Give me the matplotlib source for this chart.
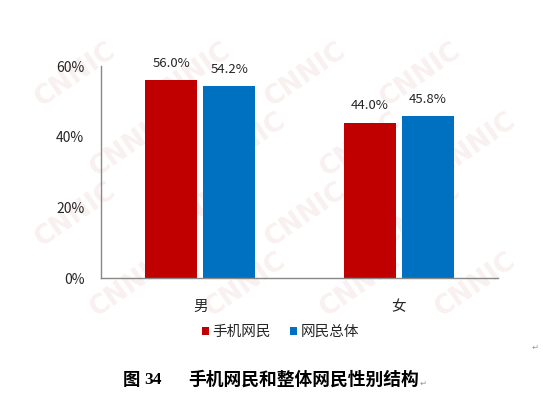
import matplotlib
matplotlib.use("Agg")
import matplotlib.pyplot as plt

plt.rcParams['font.family'] = ['Noto Sans CJK SC', 'DejaVu Sans']

categories = ['男', '女']
series_names = ['手机网民', '网民总体']
mobile_users = [56.0, 44.0]
all_users = [54.2, 45.8]
y_ticks = [0, 20, 40, 60]
y_tick_labels = ['0%', '20%', '40%', '60%']
caption_num = '34'
caption_text = '手机网民和整体网民性别结构'

RED = '#C00000'
BLUE = '#0070C0'

W, H = 543, 397
fig = plt.figure(figsize=(W / 100, H / 100), dpi=100)
fig.patch.set_facecolor('white')

# faint tiled watermark behind the chart area
wm_ax = fig.add_axes([0, 0, 1, 1], zorder=0)
wm_ax.set_xlim(0, W)
wm_ax.set_ylim(H, 0)
wm_ax.axis('off')
for row, yy in enumerate(range(75, 350, 70)):
    for xx in range(75 + (row % 2) * 55, 480, 115):
        wm_ax.text(xx, yy, 'CNNIC', fontsize=19, rotation=35, color='#f9f0f0',
                   ha='center', va='center', family='DejaVu Sans', fontweight='bold')

ax = fig.add_axes([101 / W, 1 - 278 / H, 397 / W, 212 / H], zorder=1)
ax.patch.set_alpha(0)

x = list(range(len(categories)))
bw = 0.26
off = 0.146
b1 = ax.bar([i - off for i in x], mobile_users, bw, color=RED, label=series_names[0])
b2 = ax.bar([i + off for i in x], all_users, bw, color=BLUE, label=series_names[1])

for bars, vals in ((b1, mobile_users), (b2, all_users)):
    for rect, v in zip(bars, vals):
        ax.annotate(f'{v:.1f}%', (rect.get_x() + rect.get_width() / 2, v),
                    xytext=(0, 9.5), textcoords='offset points', ha='center',
                    va='baseline', fontsize=9.5, color='#262626')

ax.set_xlim(-0.5, len(categories) - 0.5)
ax.set_ylim(0, 60)
ax.set_yticks(y_ticks)
ax.set_yticklabels(y_tick_labels, fontsize=10, color='#262626')
ax.set_xticks(x)
ax.set_xticklabels(categories, fontsize=10.5, color='#262626')
ax.tick_params(axis='both', length=0)
ax.tick_params(axis='y', pad=12)
ax.tick_params(axis='x', pad=16)
for s in ('top', 'right'):
    ax.spines[s].set_visible(False)
for s in ('left', 'bottom'):
    ax.spines[s].set_color('#888888')
    ax.spines[s].set_linewidth(1.0)

fig.legend(handles=[b1, b2], labels=series_names, loc='center',
           bbox_to_anchor=(280.5 / W, 1 - 332 / H), ncol=2, frameon=False,
           fontsize=10.5, handlelength=0.5, handleheight=0.5, handletextpad=0.25,
           columnspacing=1.3, labelcolor='#262626')

# caption line
cy = 1 - 380 / H
fig.text(123 / W, cy, '图', fontsize=12.5, fontweight='bold', va='center', ha='left')
fig.text(144 / W, cy, caption_num, fontsize=12.5, fontweight='bold', va='center',
         ha='left', family='Liberation Serif')
caption = fig.text(188 / W, cy, caption_text, fontsize=12.8, fontweight='bold',
                   va='center', ha='left')
fig.canvas.draw()
cap_right = caption.get_window_extent().x1
fig.text((cap_right + 1) / W, 1 - 383 / H, '↵', fontsize=6, color='#999999',
         va='center', ha='left', family='DejaVu Sans')
fig.text(532 / W, 1 - 347 / H, '↵', fontsize=6, color='#999999', va='center', ha='left',
         family='DejaVu Sans')

fig.savefig('out.png', dpi=100)
